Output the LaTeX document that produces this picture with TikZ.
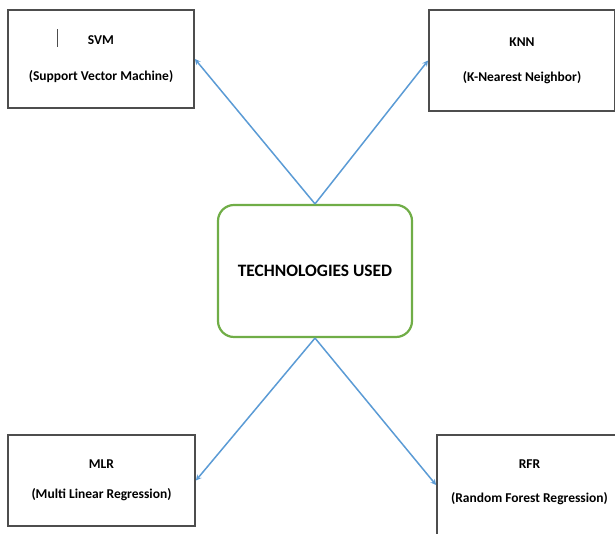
\documentclass[tikz,border=0pt]{standalone}
\usepackage{fontspec}
\setmainfont{Carlito}
\usepackage{xcolor}
\usepackage{tikz}
\usetikzlibrary{positioning}

\definecolor{arrowblue}{HTML}{5B9BD5}
\definecolor{boxgreen}{HTML}{70AD47}
\definecolor{boxgray}{HTML}{4D4D4D}

\begin{document}
\begin{tikzpicture}[
  x=1pt, y=1pt,
  algo/.style={rectangle, draw=boxgray, line width=1.8pt, minimum width=186pt, minimum height=98pt, align=center, font=\bfseries\fontsize{13.5}{16}\selectfont},
  hub/.style={rectangle, rounded corners=16pt, draw=boxgreen, line width=2.2pt, minimum width=194pt, minimum height=132pt, font=\bfseries\fontsize{17.4}{20}\selectfont},
  link/.style={->, draw=arrowblue, line width=1.5pt, >=stealth}
]
\clip (0,0) rectangle (615,534);
\node[hub] (tech) at (315,263) {TECHNOLOGIES USED};
\node[algo, above left=95pt and 22pt of tech] (svm) {SVM\\[20pt](Support Vector Machine)};
\node[algo, above right=92pt and 15pt of tech, minimum height=101pt] (knn) {KNN\\[19pt](K-Nearest Neighbor)};
\node[algo, below left=96pt and 21pt of tech, minimum width=187pt, minimum height=91pt] (mlr) {MLR\\[14pt](Multi Linear Regression)};
\node[algo, below right=96pt and 23pt of tech, minimum width=185pt, minimum height=100pt] (rfr) {RFR\\[18pt](Random Forest Regression)\\[-8pt]};

% stray mark in the SVM box
\draw[boxgray, line width=0.8pt] ([shift={(50pt,-20pt)}]svm.north west) -- ++(0,-18pt);

\draw[link] (tech.north) -- (svm.east);
\draw[link] (tech.north) -- (knn.west);
\draw[link] (tech.south) -- (mlr.east);
\draw[link] (tech.south) -- (rfr.west);
\end{tikzpicture}
\end{document}
